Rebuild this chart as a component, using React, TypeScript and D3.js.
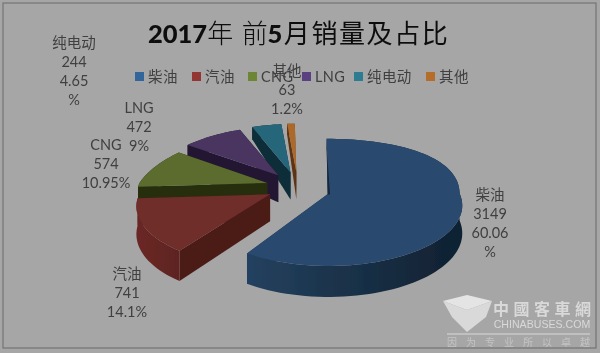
import React from "react";
import * as d3 from "d3";

const categories = ["柴油", "汽油", "CNG", "LNG", "纯电动", "其他"];
const sales = [3149, 741, 574, 472, 244, 63];
const shareLabels = [["60.06", "%"], ["14.1%"], ["10.95%"], ["9%"], ["4.65", "%"], ["1.2%"]];
const topColors = ["#2b4a6e", "#6f2d2b", "#5b6c2f", "#4a3660", "#28667a", "#ad692b"];
const wallColors = ["#1e3a58", "#4b1b19", "#272f10", "#221833", "#0f2e38", "#5c3413"];
const rimDark = ["#0f2030", "#5e2422", "#272f10", "#221833", "#0f2e38", "#5c3413"];
const rimLight = ["#24415f", "#6b2725", "#272f10", "#221833", "#0f2e38", "#5c3413"];
const legendColors = ["#33659a", "#933431", "#6c8634", "#5a4080", "#2e7c92", "#b56e2b"];
const legendX = [135, 192, 248, 302, 354, 426];
const labelPos = [[490, 195], [127, 274], [106, 145], [139, 108], [74, 43], [287, 71]];
// small per-slice corrections of the hand-drawn 3D view
const apexShiftY = [2, 0, 0, 0, 0, 0];
const backStretch = [1.13, 1, 1, 1, 1, 1];
const sideScale = [1, 1, 0.975, 1, 1, 1];
const endTrim = [0.075, 0, 0, 0, 0, 0];

const W = 600, H = 353;
const cx = 298, cy = 187, rx = 131, ry = 58, persp = 0.2, perspBackX = 0.3, exX = 32, exY = 15;

const project = (a: number, i: number): [number, number] => {
  const u = Math.sin(a), v = -Math.cos(a), d = 1 - persp * v;
  const dx = v < 0 && i > 0 ? 1 - perspBackX * v : v < 0 ? 1 : d;
  return [(u * rx * sideScale[i]) / dx, ((v * ry) / d) * (v < 0 ? backStretch[i] : 1)];
};
const depth = (a: number) => {
  const v = -Math.cos(a);
  return v < 0 ? 27 + 16 * v : 27 + 4 * v;
};
const line = d3.line();

const arcs = d3.pie<number>().sort(null).startAngle(-0.015).endAngle(Math.PI * 2 - 0.015)(sales);

function Slice({ i }: { i: number }) {
  const s = arcs[i];
  const a0 = s.startAngle, a1 = s.endAngle - endTrim[i];
  const m = (s.startAngle + s.endAngle) / 2;
  const ax = cx + exX * Math.sin(m), ay = cy - exY * Math.cos(m) + apexShiftY[i];
  const P = (a: number): [number, number] => { const [x, y] = project(a, i); return [ax + x, ay + y]; };
  const n = Math.max(4, Math.ceil((a1 - a0) / 0.04));
  const angles = d3.range(n + 1).map((k) => a0 + ((a1 - a0) * k) / n);
  const rimTop = angles.map(P);
  const rimBot = angles.map((a) => { const [x, y] = P(a); return [x, y + depth(a)] as [number, number]; });
  const top = line([[ax, ay], ...rimTop])! + "Z";
  const rim = line([...rimTop, ...rimBot.reverse()])! + "Z";
  const wall = (a: number) => { const [x, y] = P(a); return line([[ax, ay], [x, y], [x, y + depth(a)], [ax, ay + 27]])! + "Z"; };
  const [sx, sy] = P(a0);
  const seam = line([[sx, sy], [ax - 1, ay + 1], [ax + 1.5, ay + 1], [sx + 0.5, sy + 14]])! + "Z";
  return (
    <g>
      <path d={wall(a0)} fill={wallColors[i]} />
      <path d={wall(a1)} fill={wallColors[i]} />
      <path d={rim} fill={`url(#rim${i})`} />
      <path d={top} fill={topColors[i]} />
      {i === 0 && <path d={seam} fill="#12253a" />}
    </g>
  );
}

const latin = "Lato, 'Noto Sans CJK SC', sans-serif";
const cjk = "'Noto Sans CJK SC', sans-serif";

export default function App() {
  return (
    <svg width={W} height={H} viewBox={`0 0 ${W} ${H}`} style={{ position: "absolute", left: 0, top: 0, display: "block" }}>
      <defs>
        <filter id="soft" x="-5%" y="-5%" width="110%" height="110%"><feGaussianBlur stdDeviation="0.65" /></filter>
        {categories.map((_, i) => (
          <linearGradient key={i} id={`rim${i}`} x1="0" x2="1" y1="0" y2="0">
            <stop offset="0" stopColor={rimLight[i]} />
            <stop offset="1" stopColor={rimDark[i]} />
          </linearGradient>
        ))}
      </defs>
      <rect width={W} height={H} fill="#a6a6a6" />
      <g filter="url(#soft)">
        <rect x={3} y={3} width={593} height={345} fill="none" stroke="#747474" strokeWidth={1.2} />
        {/* watermark */}
        <g fill="#d9d9d9">
          <path d="M443 301 L467 295 L492 301 L467 310 Z" fill="#e4e4e4" />
          <path d="M443 301 L467 310 L467 332 L452 317 Z" />
          <path d="M492 301 L467 310 L467 332 L486 317 Z" />
          <text x={493} y={315} fontFamily="'Noto Sans CJK TC', sans-serif" fontSize={16} letterSpacing={4.5} fontWeight={700}>中國客車網</text>
          <text x={542} y={328} textAnchor="middle" fontFamily="'Liberation Sans', sans-serif" fontSize={10.6}>CHINABUSES.COM</text>
          <rect x={447} y={333.5} width={143} height={1} />
          <text x={447} y={346} fontFamily={cjk} fontSize={10} letterSpacing={9} fill="#c4c4c4">因为专业所以卓越</text>
        </g>

        {/* title */}
        <text x={148} y={43} fontSize={26} fill="#0c0c0c" fontFamily={cjk} letterSpacing={1.6}>
          <tspan fontFamily={latin} fontWeight={900} fontSize={25.5} letterSpacing={0}>2017</tspan>
          <tspan fontWeight={300}>年</tspan>
          <tspan fontWeight={300} dx={7}>前</tspan>
          <tspan fontFamily={latin} fontWeight={900} fontSize={25.5} dx={-2}>5</tspan>
          <tspan>月销量及占比</tspan>
        </text>

        {/* legend */}
        {categories.map((c, i) => (
          <g key={c}>
            <rect x={legendX[i]} y={72} width={9} height={9} fill={legendColors[i]} />
            <text x={legendX[i] + 13} y={82} fontSize={14.5} fill="#3f3f3f" fontFamily={latin} letterSpacing={0.4}>{c}</text>
          </g>
        ))}

        {/* pie, back slices first */}
        {[5, 4, 3, 2, 1, 0].map((i) => <Slice key={i} i={i} />)}

        {/* data labels */}
        {categories.map((c, i) => {
          const rows = [c, String(sales[i]), ...shareLabels[i]];
          return (
            <g key={c} textAnchor="middle" fill="#3f3f3f" fontFamily={latin} fontSize={14.5}>
              {rows.map((t, k) => (
                <text key={k} x={labelPos[i][0]} y={labelPos[i][1] + k * 19 + 5}>{t}</text>
              ))}
            </g>
          );
        })}
      </g>
    </svg>
  );
}
